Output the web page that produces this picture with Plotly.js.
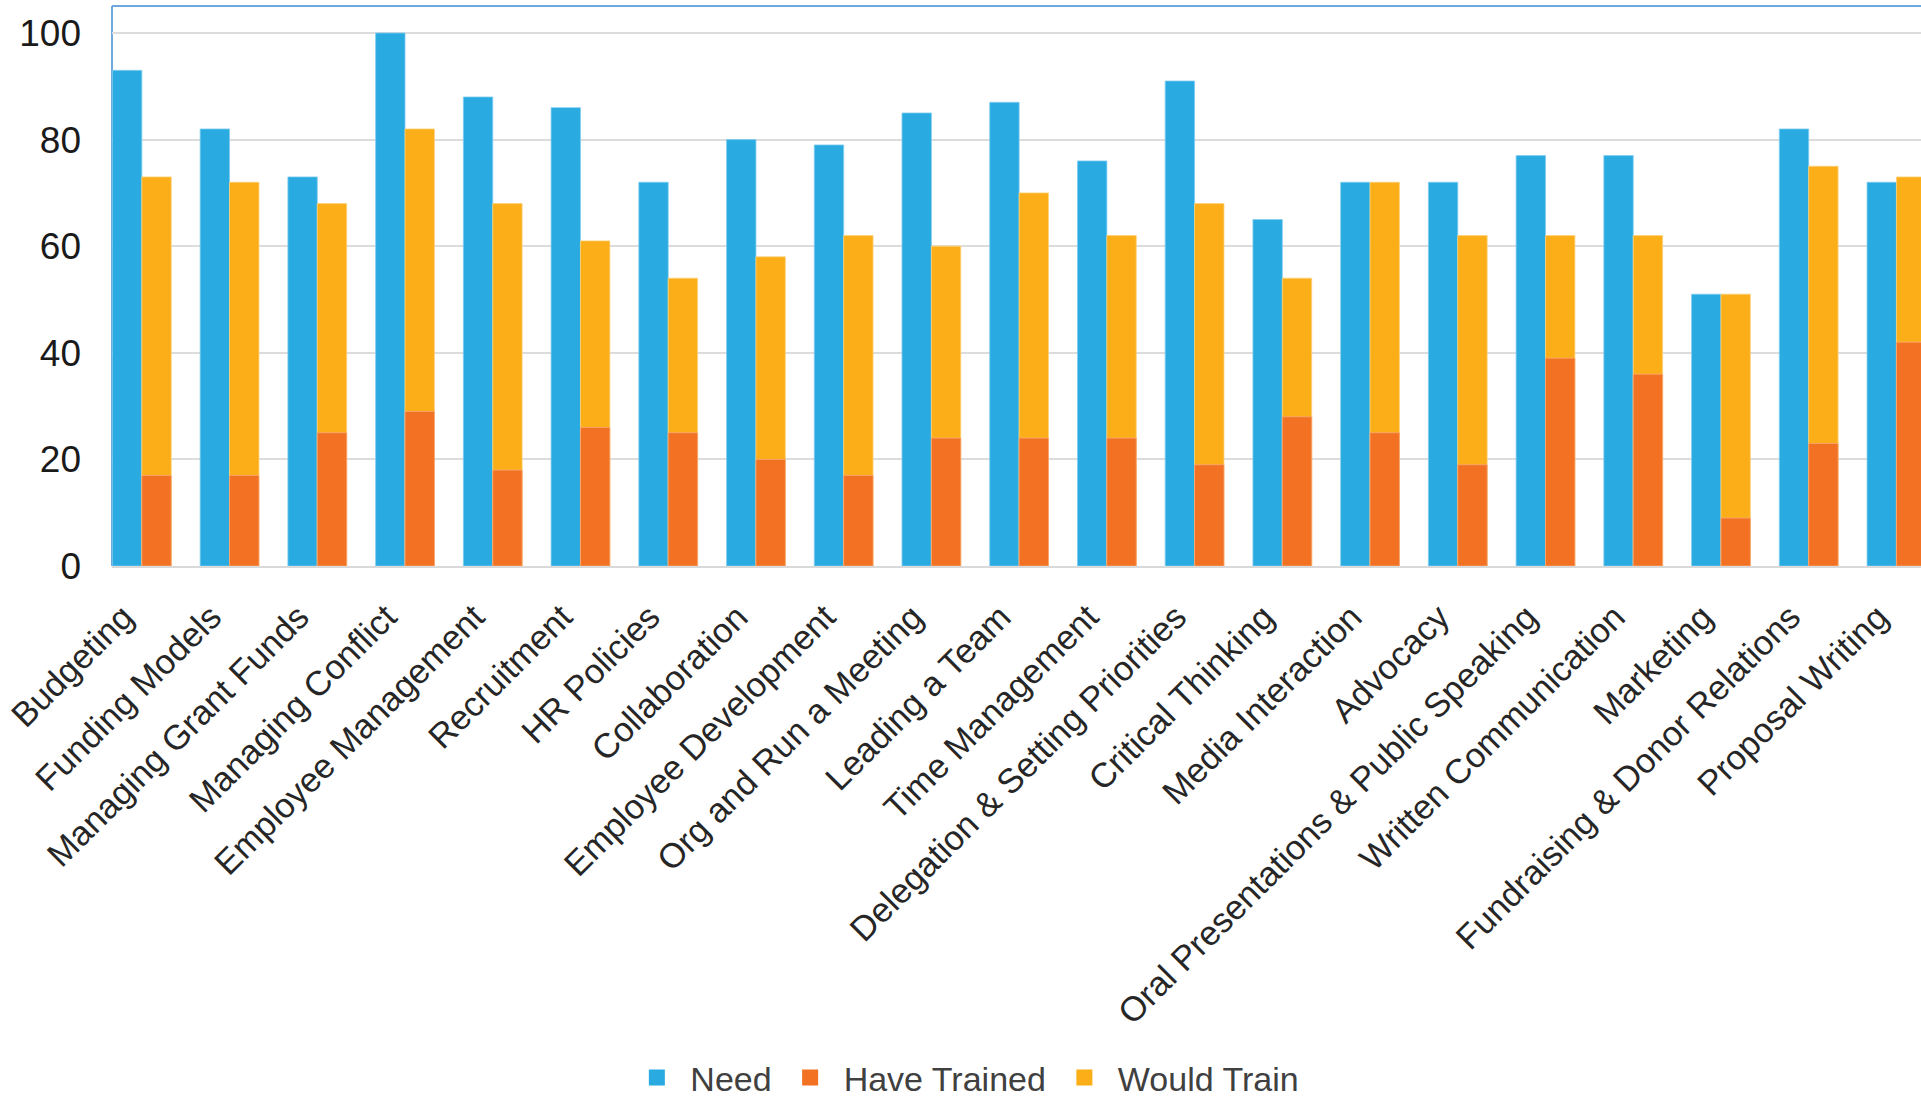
<!DOCTYPE html>
<html>
<head>
<meta charset="utf-8">
<script src="https://cdn.plot.ly/plotly-3.0.1.min.js"></script>
<style>html,body{margin:0;padding:0;background:#fff;}#chart{width:1921px;height:1101px;}</style>
</head>
<body>
<div id="chart"></div>
<script>
const categories = ["Budgeting","Funding Models","Managing Grant Funds","Managing Conflict","Employee Management","Recruitment","HR Policies","Collaboration","Employee Development","Org and Run a Meeting","Leading a Team","Time Management","Delegation & Setting Priorities","Critical Thinking","Media Interaction","Advocacy","Oral Presentations & Public Speaking","Written Communication","Marketing","Fundraising & Donor Relations","Proposal Writing"];
const need = [93,82,73,100,88,86,72,80,79,85,87,76,91,65,72,72,77,77,51,82,72];
const haveTrained = [17,17,25,29,18,26,25,20,17,24,24,24,19,28,25,19,39,36,9,23,42];
const wouldTrain = [73,72,68,82,68,61,54,58,62,60,70,62,68,54,72,62,62,62,51,75,73];
const yTicks = [0,20,40,60,80,100];
const seriesNames = ["Need","Have Trained","Would Train"];
const seriesColors = ["#29AAE1","#F27122","#FBAE17"];

const idx = categories.map((_, i) => i);
const W = 0.335;
const FONT = "'Liberation Sans', Arial, sans-serif";

const traces = [
  {type:'bar', name:seriesNames[0], x:idx, y:need, offset:-W, width:W, showlegend:false,
   marker:{color:seriesColors[0], line:{color:'#7fcdf0', width:0.8}}},
  {type:'bar', name:seriesNames[2], x:idx, y:wouldTrain, offset:0, width:W, showlegend:false,
   marker:{color:seriesColors[2], line:{color:'#fdd27a', width:0.8}}},
  {type:'bar', name:seriesNames[1], x:idx, y:haveTrained, offset:0, width:W, showlegend:false,
   marker:{color:seriesColors[1], line:{color:'#f8a878', width:0.8}}}
];
// legend entries (square keys)
seriesNames.forEach((n, k) => {
  traces.push({type:'scatter', mode:'markers', name:n, x:[null], y:[null],
    marker:{symbol:'square', size:19, color:seriesColors[k]}, showlegend:true, hoverinfo:'skip'});
});

const layout = {
  width:1921, height:1101,
  margin:{l:112, r:0, t:6, b:535, pad:0, autoexpand:false},
  paper_bgcolor:'#fff', plot_bgcolor:'#fff',
  barmode:'overlay',
  font:{family:FONT, color:'#222'},
  xaxis:{
    range:[-0.34, 20.28], tickmode:'array', tickvals:idx.map(i => i - 0.21), ticktext:categories,
    tickangle:-45, tickfont:{size:34.5, color:'#262626', family:FONT},
    showgrid:false, zeroline:false, showline:true, linecolor:'#d9d9d9', linewidth:2,
    ticks:'', ticklabelstandoff:15, fixedrange:true
  },
  yaxis:{
    range:[0, 105.07], tickmode:'array', tickvals:yTicks,
    tickfont:{size:37, color:'#1a1a1a', family:FONT},
    showgrid:true, gridcolor:'#dcdcdc', gridwidth:2, zeroline:false, showline:false,
    ticks:'', ticklabelstandoff:30, fixedrange:true
  },
  legend:{orientation:'h', x:0.4709, xanchor:'center', y:-0.914, yanchor:'middle',
    font:{size:34, color:'#404040', family:FONT}, traceorder:'normal', itemwidth:57,
    bgcolor:'rgba(0,0,0,0)'},
  shapes:[
    {type:'line', xref:'paper', yref:'paper', x0:0, x1:1, y0:1, y1:1, line:{color:'#6fa8dc', width:2}, layer:'above'},
    {type:'line', xref:'paper', yref:'paper', x0:0, x1:0, y0:0, y1:1, line:{color:'#6fa8dc', width:2}, layer:'below'}
  ],
  bargap:0
};

Plotly.newPlot('chart', traces, layout, {displayModeBar:false, staticPlot:true});
</script>
</body>
</html>
